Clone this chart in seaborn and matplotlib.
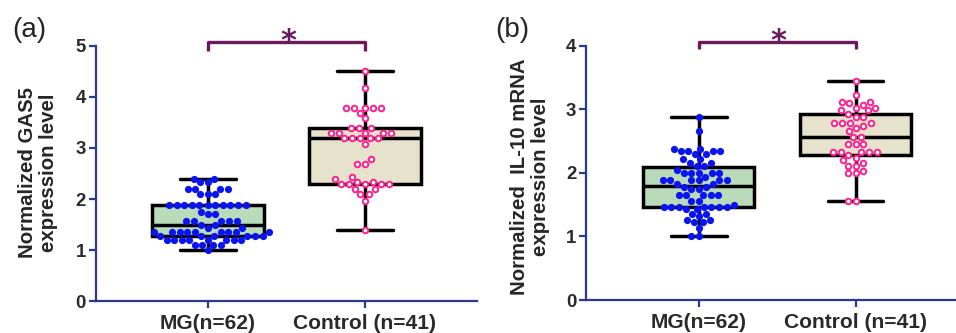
import numpy as np
import pandas as pd
import matplotlib.pyplot as plt
import seaborn as sns

groups = ["MG(n=62)", "Control (n=41)"]

# (a) GAS5
gas5_mg = [2.40, 2.40, 2.33, 2.33, 2.20, 2.20, 2.20, 2.20, 2.09, 2.09, 2.09,
           1.89, 1.89, 1.89, 1.89, 1.89, 1.89, 1.89, 1.89, 1.89, 1.89, 1.89,
           1.75, 1.70, 1.70, 1.56, 1.56, 1.56, 1.56, 1.56, 1.50, 1.50,
           1.44, 1.44, 1.35, 1.35, 1.35, 1.35, 1.35, 1.35, 1.35, 1.35, 1.35,
           1.28, 1.28, 1.28, 1.28, 1.28, 1.28,
           1.20, 1.20, 1.20, 1.20, 1.20, 1.20, 1.20, 1.20,
           1.10, 1.10, 1.10, 1.10, 1.00]
gas5_ctrl = [4.50, 4.18, 3.79, 3.79, 3.79, 3.79, 3.79, 3.69, 3.58,
             3.39, 3.39, 3.39, 3.30, 3.30, 3.30, 3.30, 3.30,
             3.19, 3.19, 3.19, 3.19, 3.19, 3.08, 2.79, 2.69, 2.69,
             2.43, 2.39, 2.33, 2.33, 2.29, 2.29, 2.29, 2.29, 2.29,
             2.19, 2.19, 2.09, 2.09, 1.97, 1.39]

# (b) IL-10 mRNA
il10_mg = [2.88, 2.66, 2.38, 2.38, 2.34, 2.34, 2.34, 2.34, 2.29, 2.29,
           2.21, 2.21, 2.15, 2.15, 2.11, 2.11, 2.05,
           2.00, 2.00, 2.00, 2.00, 2.00, 1.94,
           1.88, 1.88, 1.88, 1.88, 1.88, 1.88, 1.82, 1.82, 1.78, 1.78,
           1.74, 1.74, 1.65, 1.65, 1.65, 1.65, 1.65, 1.56, 1.56, 1.49,
           1.46, 1.46, 1.46, 1.46, 1.46, 1.46, 1.46, 1.43, 1.43,
           1.35, 1.35, 1.32, 1.26, 1.26, 1.22, 1.22, 1.13, 1.00, 1.00]
il10_ctrl = [3.45, 3.22, 3.12, 3.12, 3.09, 3.07, 3.02, 3.02, 2.98, 2.98,
             2.92, 2.88, 2.88, 2.78, 2.78, 2.78, 2.78, 2.74, 2.70, 2.66,
             2.56, 2.56, 2.45, 2.45, 2.45, 2.32, 2.32, 2.32, 2.32, 2.32,
             2.28, 2.24, 2.20, 2.15, 2.11, 2.11, 2.03, 1.99, 1.99, 1.55, 1.55]

navy = "#2b3990"
purple = "#6b1a5e"
box_colors = {groups[0]: "#b5e0b5", groups[1]: "#ebe5c8"}

sns.set_theme(style="ticks")
plt.rcParams["font.family"] = ["Liberation Sans", "DejaVu Sans"]
plt.rcParams["font.weight"] = "bold"


def draw_panel(ax, mg, ctrl, ytop, ylabel, label_y, bracket):
    df = pd.DataFrame({"group": [groups[0]] * len(mg) + [groups[1]] * len(ctrl),
                       "value": mg + ctrl})
    sns.boxplot(data=df, x="group", y="value", hue="group", order=groups,
                palette=box_colors, legend=False, width=0.71, linewidth=2.5,
                linecolor="black", whis=(0, 100), showfliers=False, ax=ax)
    sns.swarmplot(data=df[df.group == groups[0]], x="group", y="value",
                  order=groups, color="#0a14f0", size=5.2, linewidth=0,
                  zorder=3, ax=ax)
    sns.swarmplot(data=df[df.group == groups[1]], x="group", y="value",
                  order=groups, color="white", edgecolor="#ff1f8f", size=4.0,
                  linewidth=1.4, zorder=3, ax=ax)

    ax.set_ylim(0, ytop)
    ax.set_yticks(range(0, ytop + 1))
    ax.set_xlabel("")
    ax.set_ylabel(ylabel, fontsize=14.7, fontweight="bold", linespacing=1.15)
    ax.yaxis.label.set_va("center")
    ax.yaxis.set_label_coords(-0.151, label_y)
    sns.despine(ax=ax)
    for s in ["left", "bottom"]:
        ax.spines[s].set_color(navy)
        ax.spines[s].set_linewidth(1.6)
    ax.tick_params(axis="both", length=5, width=1.6, color=navy,
                   labelcolor="#2a2a2a", pad=2)
    ax.tick_params(axis="y", labelsize=13.4)
    ax.tick_params(axis="x", labelsize=15.1, pad=4)
    for t in ax.get_xticklabels() + ax.get_yticklabels():
        t.set_fontweight("bold")

    # significance bracket
    y0, y1, ys = bracket
    ax.plot([0, 0, 1, 1], [y0, y1, y1, y0], color=purple, lw=2.4,
            solid_capstyle="butt", clip_on=False)
    ax.text(0.51, ys, "*", ha="center", va="baseline", fontsize=22,
            fontweight="bold", color=purple, family="DejaVu Sans")


fig = plt.figure(figsize=(9.56, 3.33), dpi=100)
ax1 = fig.add_axes([0.100, 0.096, 0.399, 0.766])
ax2 = fig.add_axes([0.613, 0.099, 0.387, 0.764])

draw_panel(ax1, gas5_mg, gas5_ctrl, 5, "Normalized GAS5\nexpression level",
           0.504, (4.90, 5.08, 4.92))
ax1.set_xlim(-0.713, 1.713)

draw_panel(ax2, il10_mg, il10_ctrl, 4,
           "Normalized  IL-10 mRNA\nexpression level", 0.484, (3.94, 4.06, 3.93))
ax2.set_xlim(-0.718, 1.64)

fig.text(0.0126, 0.889, "(a)", fontsize=20, fontweight="normal",
         va="baseline", ha="left")
fig.text(0.518, 0.889, "(b)", fontsize=20, fontweight="normal",
         va="baseline", ha="left")

fig.savefig("out.png", dpi=100)
